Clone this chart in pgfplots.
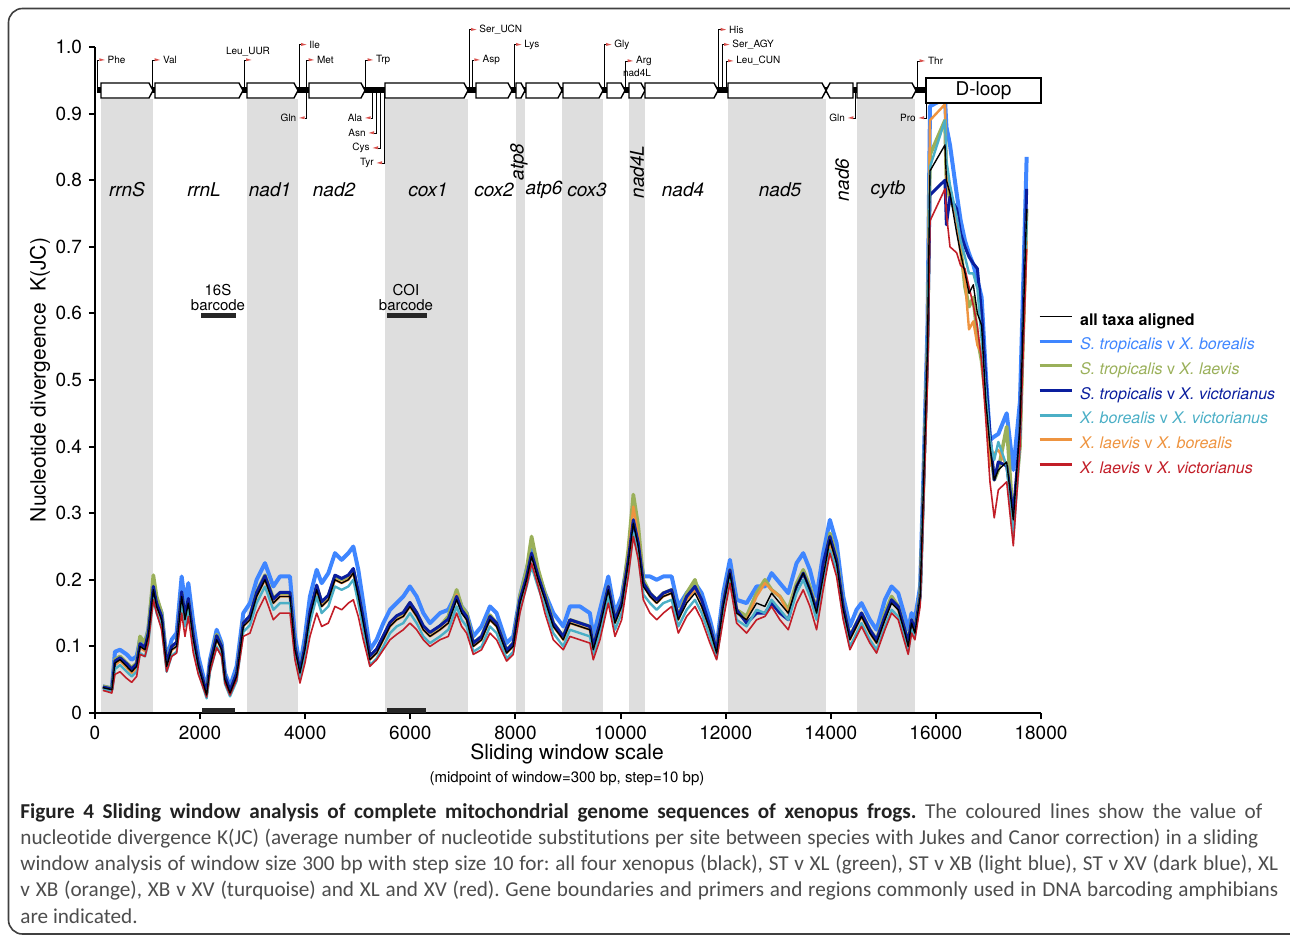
\documentclass[border=0pt]{standalone}
\usepackage{fontspec}
\setmainfont{TeX Gyre Heros}
\newfontfamily\capfont[Ligatures=NoCommon]{Carlito}
\usepackage{pgfplots}
\usepackage{pgfplotstable}
\pgfplotsset{compat=1.18}

\definecolor{cLB}{HTML}{3F86FF}
\definecolor{cGR}{HTML}{9AB05A}
\definecolor{cDB}{HTML}{0A1E9E}
\definecolor{cTQ}{HTML}{4BAFC6}
\definecolor{cOR}{HTML}{EE9440}
\definecolor{cRD}{HTML}{C21E28}
\definecolor{regiongray}{HTML}{DEDEDE}
\definecolor{flagred}{HTML}{D9534F}
\definecolor{capgray}{HTML}{4D4D4D}
\definecolor{capdark}{HTML}{222222}

% K(JC) in sliding windows
\pgfplotstableread{
x all stxb stxl stxv xbxv xlxb xlxv
150 0.038 0.040 0.040 0.039 0.036 0.038 0.034
320 0.035 0.037 0.037 0.036 0.033 0.035 0.030
380 0.075 0.092 0.080 0.078 0.066 0.072 0.058
476 0.080 0.095 0.085 0.083 0.072 0.078 0.062
603 0.070 0.088 0.075 0.074 0.062 0.068 0.052
698 0.062 0.080 0.068 0.066 0.055 0.060 0.046
793 0.070 0.085 0.075 0.074 0.062 0.068 0.055
856 0.100 0.110 0.115 0.104 0.090 0.098 0.088
951 0.095 0.105 0.105 0.099 0.085 0.093 0.085
1014 0.115 0.125 0.125 0.120 0.105 0.113 0.105
1110 0.185 0.195 0.207 0.190 0.172 0.185 0.170
1172 0.160 0.170 0.175 0.165 0.150 0.160 0.150
1268 0.140 0.150 0.150 0.145 0.130 0.138 0.125
1363 0.070 0.080 0.075 0.075 0.062 0.068 0.062
1458 0.095 0.110 0.100 0.100 0.086 0.094 0.085
1553 0.100 0.120 0.105 0.106 0.092 0.100 0.090
1649 0.175 0.205 0.180 0.182 0.165 0.175 0.150
1712 0.140 0.165 0.145 0.147 0.130 0.140 0.115
1776 0.165 0.195 0.170 0.172 0.155 0.165 0.145
1871 0.110 0.135 0.115 0.116 0.100 0.108 0.090
1966 0.070 0.085 0.074 0.075 0.062 0.070 0.058
2124 0.027 0.035 0.030 0.030 0.022 0.027 0.024
2188 0.070 0.080 0.074 0.075 0.062 0.070 0.062
2315 0.110 0.125 0.118 0.116 0.100 0.110 0.098
2410 0.095 0.105 0.100 0.100 0.086 0.095 0.085
2473 0.050 0.060 0.054 0.055 0.044 0.050 0.045
2569 0.030 0.040 0.033 0.034 0.025 0.030 0.027
2695 0.055 0.070 0.060 0.060 0.048 0.055 0.050
2822 0.130 0.150 0.135 0.135 0.122 0.130 0.115
2949 0.140 0.165 0.145 0.146 0.132 0.140 0.120
3076 0.175 0.200 0.182 0.181 0.165 0.175 0.150
3234 0.200 0.225 0.207 0.206 0.190 0.200 0.175
3393 0.165 0.190 0.172 0.171 0.155 0.165 0.140
3520 0.175 0.205 0.180 0.181 0.165 0.175 0.150
3710 0.175 0.205 0.180 0.181 0.165 0.175 0.150
3805 0.095 0.115 0.100 0.100 0.085 0.095 0.080
3900 0.060 0.070 0.064 0.064 0.052 0.060 0.045
3995 0.095 0.115 0.100 0.100 0.085 0.095 0.075
4090 0.145 0.175 0.150 0.152 0.135 0.145 0.115
4218 0.185 0.215 0.190 0.192 0.175 0.185 0.150
4313 0.160 0.195 0.165 0.167 0.150 0.160 0.130
4440 0.170 0.210 0.175 0.177 0.160 0.170 0.135
4566 0.200 0.240 0.205 0.207 0.190 0.200 0.160
4693 0.195 0.230 0.200 0.202 0.185 0.195 0.155
4820 0.200 0.240 0.205 0.207 0.190 0.200 0.165
4915 0.210 0.250 0.215 0.217 0.200 0.210 0.170
5010 0.175 0.215 0.180 0.182 0.165 0.175 0.145
5105 0.135 0.165 0.140 0.142 0.125 0.135 0.110
5232 0.080 0.095 0.085 0.086 0.072 0.080 0.070
5359 0.090 0.110 0.095 0.096 0.082 0.090 0.080
5486 0.110 0.135 0.115 0.116 0.100 0.110 0.095
5613 0.130 0.155 0.135 0.136 0.120 0.130 0.110
5740 0.140 0.165 0.145 0.146 0.130 0.140 0.118
5866 0.145 0.175 0.150 0.151 0.135 0.145 0.125
5993 0.160 0.190 0.165 0.166 0.150 0.160 0.135
6120 0.145 0.175 0.150 0.151 0.135 0.145 0.125
6247 0.125 0.150 0.130 0.131 0.115 0.125 0.110
6374 0.115 0.135 0.120 0.121 0.105 0.115 0.100
6564 0.125 0.150 0.130 0.131 0.115 0.125 0.110
6722 0.135 0.155 0.145 0.141 0.125 0.135 0.115
6881 0.170 0.180 0.185 0.175 0.160 0.178 0.150
6976 0.150 0.160 0.160 0.155 0.140 0.155 0.130
7071 0.140 0.150 0.150 0.145 0.130 0.140 0.120
7198 0.100 0.115 0.105 0.105 0.092 0.100 0.088
7356 0.110 0.130 0.115 0.115 0.100 0.110 0.095
7515 0.140 0.160 0.147 0.145 0.130 0.140 0.120
7641 0.130 0.150 0.135 0.135 0.120 0.130 0.110
7831 0.090 0.105 0.094 0.094 0.082 0.090 0.078
7958 0.100 0.115 0.105 0.105 0.092 0.100 0.088
8085 0.165 0.175 0.175 0.170 0.155 0.165 0.150
8212 0.200 0.215 0.215 0.205 0.190 0.205 0.190
8307 0.235 0.245 0.265 0.240 0.220 0.240 0.225
8434 0.200 0.210 0.215 0.205 0.188 0.200 0.190
8561 0.170 0.180 0.180 0.175 0.160 0.170 0.150
8720 0.130 0.150 0.135 0.135 0.120 0.130 0.110
8910 0.110 0.130 0.115 0.115 0.100 0.110 0.095
9037 0.135 0.160 0.140 0.140 0.125 0.135 0.115
9227 0.130 0.160 0.135 0.135 0.120 0.130 0.110
9417 0.125 0.150 0.130 0.130 0.115 0.125 0.105
9481 0.095 0.115 0.100 0.100 0.088 0.095 0.080
9608 0.130 0.155 0.135 0.135 0.120 0.130 0.110
9767 0.185 0.205 0.190 0.190 0.175 0.185 0.165
9894 0.135 0.150 0.140 0.140 0.125 0.135 0.115
10021 0.160 0.175 0.165 0.165 0.150 0.160 0.140
10147 0.225 0.235 0.245 0.230 0.210 0.235 0.205
10243 0.285 0.290 0.328 0.290 0.270 0.310 0.265
10338 0.250 0.255 0.280 0.255 0.235 0.265 0.230
10433 0.190 0.205 0.200 0.195 0.178 0.192 0.170
10560 0.175 0.205 0.180 0.180 0.165 0.175 0.150
10687 0.165 0.200 0.170 0.170 0.155 0.165 0.140
10813 0.175 0.205 0.180 0.180 0.165 0.175 0.150
10972 0.180 0.205 0.185 0.185 0.170 0.180 0.160
11099 0.140 0.160 0.145 0.145 0.130 0.140 0.120
11258 0.165 0.180 0.180 0.175 0.155 0.170 0.145
11416 0.180 0.195 0.200 0.190 0.170 0.185 0.160
11543 0.160 0.180 0.165 0.170 0.150 0.160 0.140
11701 0.125 0.140 0.130 0.130 0.115 0.125 0.105
11828 0.090 0.100 0.094 0.094 0.082 0.090 0.080
11954 0.160 0.180 0.165 0.165 0.150 0.160 0.140
12081 0.210 0.230 0.215 0.215 0.200 0.210 0.195
12208 0.150 0.170 0.155 0.155 0.140 0.150 0.135
12398 0.140 0.165 0.145 0.135 0.130 0.140 0.120
12588 0.165 0.190 0.180 0.150 0.155 0.175 0.140
12747 0.160 0.190 0.200 0.150 0.150 0.195 0.145
12873 0.180 0.210 0.185 0.165 0.170 0.185 0.160
13032 0.165 0.195 0.175 0.150 0.155 0.175 0.140
13191 0.150 0.180 0.155 0.140 0.140 0.150 0.125
13349 0.190 0.225 0.195 0.190 0.180 0.190 0.165
13476 0.210 0.240 0.215 0.210 0.200 0.210 0.185
13603 0.185 0.215 0.190 0.185 0.175 0.185 0.160
13730 0.150 0.175 0.155 0.155 0.140 0.150 0.125
13856 0.205 0.240 0.215 0.225 0.195 0.205 0.185
13983 0.260 0.290 0.270 0.265 0.245 0.255 0.240
14110 0.225 0.255 0.235 0.230 0.215 0.225 0.205
14237 0.155 0.175 0.160 0.160 0.145 0.155 0.140
14364 0.110 0.130 0.115 0.115 0.100 0.110 0.095
14490 0.130 0.155 0.135 0.135 0.120 0.130 0.115
14585 0.145 0.165 0.150 0.150 0.135 0.145 0.130
14744 0.120 0.140 0.125 0.125 0.110 0.120 0.105
14871 0.105 0.125 0.110 0.110 0.095 0.105 0.090
15030 0.140 0.170 0.150 0.145 0.130 0.140 0.125
15157 0.165 0.190 0.175 0.170 0.155 0.170 0.150
15283 0.155 0.180 0.160 0.160 0.145 0.155 0.140
15410 0.120 0.145 0.125 0.125 0.110 0.120 0.105
15473 0.100 0.125 0.105 0.105 0.092 0.100 0.088
15537 0.135 0.150 0.140 0.140 0.125 0.135 0.120
15600 0.120 0.140 0.125 0.125 0.115 0.120 0.110
15700 0.175 0.190 0.180 0.175 0.170 0.175 0.160
15760 0.330 0.350 0.330 0.330 0.320 0.330 0.300
15840 0.550 0.580 0.550 0.540 0.540 0.560 0.500
15888 0.814 0.911 0.838 0.778 0.820 0.890 0.739
16173 0.853 0.923 0.890 0.800 0.890 0.914 0.787
16200 0.800 0.880 0.800 0.733 0.830 0.800 0.750
16268 0.780 0.853 0.770 0.775 0.793 0.781 0.700
16395 0.721 0.780 0.751 0.757 0.745 0.739 0.691
16470 0.690 0.740 0.700 0.720 0.710 0.690 0.672
16553 0.661 0.709 0.640 0.700 0.685 0.649 0.667
16630 0.630 0.690 0.610 0.685 0.660 0.576 0.640
16712 0.643 0.673 0.624 0.675 0.660 0.588 0.612
16790 0.600 0.650 0.564 0.667 0.637 0.552 0.580
16870 0.582 0.624 0.528 0.600 0.560 0.540 0.528
16950 0.468 0.510 0.470 0.500 0.480 0.460 0.440
17029 0.400 0.410 0.400 0.419 0.410 0.371 0.347
17110 0.350 0.415 0.350 0.350 0.380 0.390 0.293
17188 0.365 0.419 0.365 0.377 0.407 0.395 0.335
17347 0.377 0.450 0.430 0.371 0.371 0.371 0.347
17473 0.290 0.365 0.287 0.299 0.263 0.287 0.251
17600 0.430 0.468 0.400 0.420 0.400 0.400 0.400
17727 0.757 0.835 0.757 0.787 0.739 0.709 0.697
}\divtab

% pixel grid of the reference: (95,713) is the axis origin
\tikzset{px/.style={x=0.5pt,y=-0.5pt,shift={(-47.5pt,356.5pt)}}}
\newcommand{\trna}{\fontsize{5}{5}\selectfont}
\newcommand{\gene}[2]{\draw[line width=0.7pt,fill=white,line join=miter] (#1,83) -- ({#2-4},83) -- (#2,90.5) -- ({#2-4},98) -- (#1,98) -- cycle;}
\newcommand{\up}[3]{%
  \draw[line width=0.45pt] (#1,90.5) |- ({#1+2},#2);
  \fill[flagred] ({#1+2},{#2-1.8}) -- ({#1+7.5},#2) -- ({#1+2},{#2+1.2}) -- cycle;
  \node[anchor=west,inner sep=0pt,font=\trna] at ({#1+10},#2) {#3};}
\newcommand{\dn}[3]{%
  \draw[line width=0.45pt] (#1,90.5) |- ({#1-2},#2);
  \fill[flagred] ({#1-2},{#2-1.8}) -- ({#1-7.5},#2) -- ({#1-2},{#2+1.2}) -- cycle;
  \node[anchor=east,inner sep=0pt,font=\trna] at ({#1-10},#2) {#3};}
\newcommand{\gname}[3][0]{\node[inner sep=0pt,font=\fontsize{9.5}{10}\selectfont\itshape,rotate=#1] at (#2) {#3};}

\begin{document}
\frenchspacing
\begin{tikzpicture}
\begin{axis}[
    at={(0,0)}, anchor=origin,
    scale only axis, width=473pt, height=333pt,
    xmin=0, xmax=18000, ymin=0, ymax=1,
    axis x line*=bottom, axis y line*=left,
    axis line style={line width=1.2pt,-},
    axis on top,
    xtick={0,2000,...,18000},
    ytick={0,0.1,0.2,0.3,0.4,0.5,0.6,0.7,0.8,0.9,1.0},
    yticklabels={0,0.1,0.2,0.3,0.4,0.5,0.6,0.7,0.8,0.9,1.0},
    scaled x ticks=false,
    x tick label style={/pgf/number format/1000 sep={}},
    /pgf/number format/assume math mode=true,
    tick align=outside, major tick length=3pt,
    tick style={line width=1pt,black},
    ticklabel style={font=\fontsize{9.5}{10}\selectfont},
    xlabel={Sliding window scale},
    xlabel style={at={(axis description cs:0.499,-0.0616)},anchor=center,font=\fontsize{10.5}{11}\selectfont},
    ylabel={Nucleotide divergeence\ \ K(JC)},
    ylabel style={at={(axis description cs:-0.058,0.5)},anchor=center,font=\fontsize{10.5}{11}\selectfont},
    clip=false,
    legend cell align=left,
    legend image code/.code={\draw[#1] (0pt,2.9pt) -- (16pt,2.9pt);},
    legend style={draw=none, fill=none, at={(axis description cs:0.9965,0.606)}, anchor=north west,
      inner sep=0pt, row sep=0pt, font=\fontsize{8}{9}\selectfont,
      nodes={inner sep=0pt, text height=7.6pt, text depth=4.75pt},
      /tikz/every odd column/.append style={column sep=3.5pt}},
  ]
  % gene regions
  \fill[regiongray] (axis cs:120,0) rectangle (axis cs:1104,0.922);
  \fill[regiongray] (axis cs:2892,0) rectangle (axis cs:3863,0.922);
  \fill[regiongray] (axis cs:5518,0) rectangle (axis cs:7097,0.922);
  \fill[regiongray] (axis cs:8011,0) rectangle (axis cs:8182,0.922);
  \fill[regiongray] (axis cs:8886,0) rectangle (axis cs:9666,0.922);
  \fill[regiongray] (axis cs:10161,0) rectangle (axis cs:10465,0.922);
  \fill[regiongray] (axis cs:12044,0) rectangle (axis cs:13909,0.922);
  \fill[regiongray] (axis cs:14499,0) rectangle (axis cs:15600,0.922);

  \addlegendimage{black, line width=0.7pt}
  \addlegendentry{\textbf{all taxa aligned}}
  \addlegendimage{cLB, line width=1.5pt}
  \addlegendentry{\color{cLB}\textit{S. tropicalis} v \textit{X. borealis}}
  \addlegendimage{cGR, line width=1.5pt}
  \addlegendentry{\color{cGR}\textit{S. tropicalis} v \textit{X. laevis}}
  \addlegendimage{cDB, line width=1.5pt}
  \addlegendentry{\color{cDB}\textit{S. tropicalis} v \textit{X. victorianus}}
  \addlegendimage{cTQ, line width=1.5pt}
  \addlegendentry{\color{cTQ}\textit{X. borealis} v \textit{X. victorianus}}
  \addlegendimage{cOR, line width=1.5pt}
  \addlegendentry{\color{cOR}\textit{X. laevis} v \textit{X. borealis}}
  \addlegendimage{cRD, line width=1.5pt}
  \addlegendentry{\color{cRD}\textit{X. laevis} v \textit{X. victorianus}}

  \addplot[cLB, line width=2pt, line join=round, forget plot] table[x=x,y=stxb]{\divtab};
  \addplot[cGR, line width=1.8pt, line join=round, forget plot] table[x=x,y=stxl]{\divtab};
  \addplot[cOR, line width=1.2pt, line join=round, forget plot] table[x=x,y=xlxb]{\divtab};
  \addplot[cDB, line width=1.5pt, line join=round, forget plot] table[x=x,y=stxv]{\divtab};
  \addplot[cTQ, line width=1.2pt, line join=round, forget plot] table[x=x,y=xbxv]{\divtab};
  \addplot[cRD, line width=0.8pt, line join=round, forget plot] table[x=x,y=xlxv]{\divtab};
  \addplot[black, line width=0.7pt, line join=round, forget plot] table[x=x,y=all]{\divtab};
\end{axis}

\begin{scope}[px]
  % figure frame
  \draw[line width=0.8pt, black!75, rounded corners=7pt] (8.5,8.5) rectangle (1330,934);
  \node[font=\fontsize{7.5}{8}\selectfont] at (567,779) {(midpoint of window=300 bp, step=10 bp)};

  % genome map
  \draw[line width=3pt] (97,90.5) -- (926,90.5);
  \gene{101}{153}\gene{155}{243}\gene{247}{298}\gene{309}{365}\gene{385}{468}
  \gene{476}{512}\gene{516}{525}\gene{526}{562}\gene{563}{603}\gene{607}{625}
  \gene{629}{645}\gene{645}{718}\gene{728}{826}\gene{857}{916}
  \draw[line width=0.7pt,fill=white] (826,90.5) -- (830,83) -- (853,83) -- (853,98) -- (830,98) -- cycle;
  \draw[line width=0.7pt,fill=white] (926,78) rectangle (1041,103);
  \node[font=\fontsize{9.5}{10}\selectfont] at (983.5,90.5) {D-loop};

  \up{97.3}{60}{Phe}\up{152.7}{60}{Val}\up{244}{60}{}
  \node[inner sep=0pt,font=\trna] at (248,51.5) {Leu\_UUR};
  \up{299}{44.7}{Ile}\up{306.7}{60}{Met}\up{365.7}{60}{Trp}
  \up{469}{29.7}{Ser\_UCN}\up{472.3}{60}{Asp}\up{514}{44.7}{Lys}
  \up{604}{44.7}{Gly}\up{625.7}{61}{Arg}
  \node[inner sep=0pt,font=\trna] at (637,72.5) {nad4L};
  \up{718.7}{29.7}{His}\up{722}{44.7}{Ser\_AGY}\up{726}{61}{Leu\_CUN}\up{917.7}{61}{Thr}
  \dn{306.7}{118}{Gln}\dn{372.7}{118}{Ala}\dn{376}{133}{Asn}\dn{380}{148}{Cys}
  \dn{384}{163}{Tyr}\dn{855.3}{118}{Gln}\dn{926}{118}{Pro}

  \gname{127,190}{rrnS}\gname{204,190}{rrnL}\gname{270,190}{nad1}
  \gname{334,190}{nad2}\gname{428,190}{cox1}\gname{494,190}{cox2}
  \gname[90]{519,162}{atp8}\gname{544,190}{atp6}\gname{587,190}{cox3}
  \gname[90]{637,172}{nad4L}\gname{683,190}{nad4}\gname{780,190}{nad5}
  \gname[90]{842,180}{nad6}\gname{888,190}{cytb}

  % barcode regions
  \fill[black!85] (201,313) rectangle (236,318.5);
  \fill[black!85] (387,313) rectangle (427,318.5);
  \node[align=center,font=\fontsize{7.5}{7.5}\selectfont] at (218,297.5) {16S\\barcode};
  \node[align=center,font=\fontsize{7.5}{7.5}\selectfont] at (406,297.5) {COI\\barcode};
  \fill[black!85] (202,707.5) rectangle (235,713);
  \fill[black!85] (387,707.5) rectangle (426,713);

  % caption
  \begin{scope}[every node/.style={anchor=base west,inner sep=0pt,text=capgray,font=\capfont\fontsize{10.6}{12}\selectfont}]
  \node at (20,818) {\makebox[621pt][s]{\textbf{\color{capdark}Figure 4 Sliding window analysis of complete mitochondrial genome sequences of xenopus frogs.} The coloured lines show the value of}};
  \node at (20,844.3) {\makebox[619pt][s]{nucleotide divergence K(JC) (average number of nucleotide substitutions per site between species with Jukes and Canor correction) in a sliding}};
  \node at (20,870.6) {\makebox[629pt][s]{window analysis of window size 300 bp with step size 10 for: all four xenopus (black), ST v XL (green), ST v XB (light blue), ST v XV (dark blue), XL}};
  \node at (20,896.9) {\makebox[629pt][s]{v XB (orange), XB v XV (turquoise) and XL and XV (red). Gene boundaries and primers and regions commonly used in DNA barcoding amphibians}};
  \node at (20,923.2) {are indicated.};
  \end{scope}
\end{scope}

\pgfresetboundingbox
\begin{scope}[px]
  \path[use as bounding box] (0,0) rectangle (1290,938);
\end{scope}
\end{tikzpicture}
\end{document}
